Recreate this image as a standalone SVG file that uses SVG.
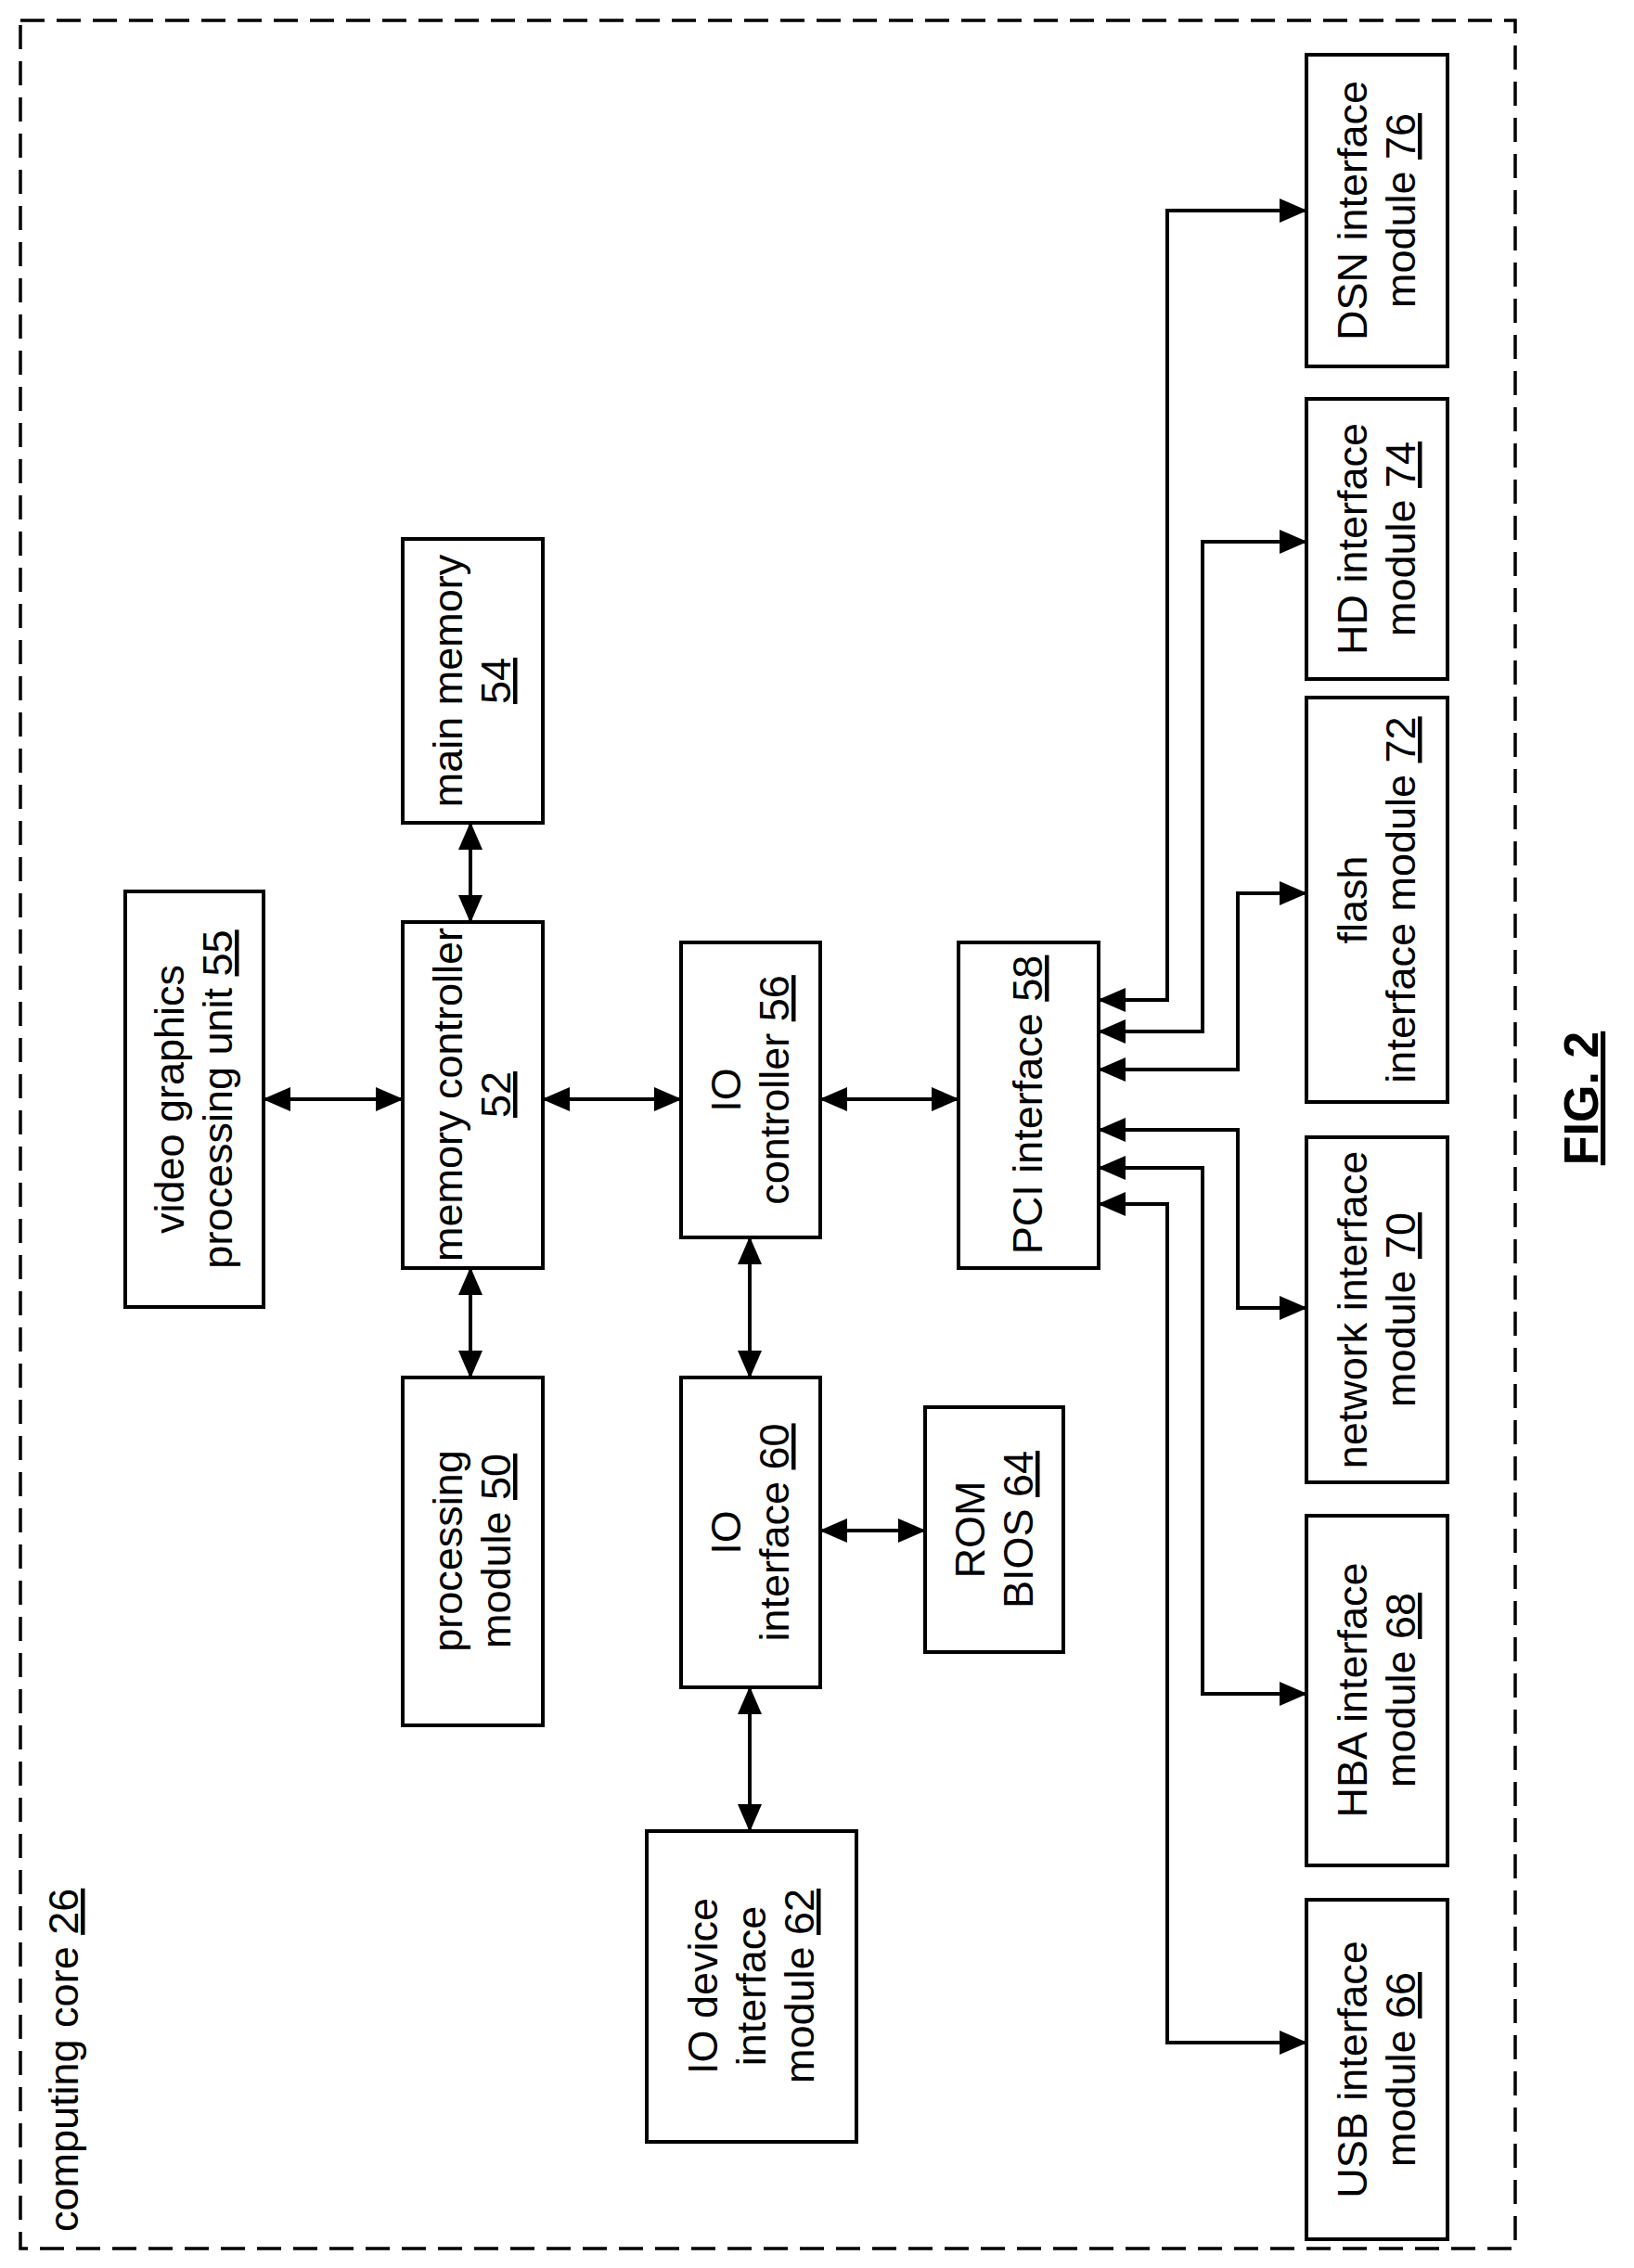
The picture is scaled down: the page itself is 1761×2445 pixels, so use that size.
<svg xmlns="http://www.w3.org/2000/svg" width="1761" height="2445" viewBox="0 0 1761 2445">
<style>
.b{fill:#fff;stroke:#000;stroke-width:4}
.t{font-family:"Liberation Sans",Arial,sans-serif;font-size:45px;text-anchor:middle;fill:#000}
.c{fill:none;stroke:#000;stroke-width:4}
.u{text-decoration:underline}
</style>
<defs>
<marker id="a" viewBox="0 0 30 26" refX="29" refY="13" markerWidth="30" markerHeight="26" markerUnits="userSpaceOnUse" orient="auto-start-reverse"><path d="M0,0L30,13L0,26z" fill="#000"/></marker>
</defs>
<rect x="22" y="22" width="1611" height="2402" fill="none" stroke="#000" stroke-width="3.5" stroke-dasharray="26 13"/>
<text class="t" style="text-anchor:start" transform="translate(84,2406) rotate(-90)">computing core <tspan class="u">26</tspan></text>
<text class="t" style="font-weight:bold;font-size:52px" transform="translate(1722,1184) rotate(-90)"><tspan class="u">FIG. 2</tspan></text>

<g id="connectors">
<path class="c" d="M284,1185H434" marker-start="url(#a)" marker-end="url(#a)"/>
<path class="c" d="M585,1185H734" marker-start="url(#a)" marker-end="url(#a)"/>
<path class="c" d="M884,1185H1033" marker-start="url(#a)" marker-end="url(#a)"/>
<path class="c" d="M507,887V994" marker-start="url(#a)" marker-end="url(#a)"/>
<path class="c" d="M507,1367V1485" marker-start="url(#a)" marker-end="url(#a)"/>
<path class="c" d="M808,1334V1485" marker-start="url(#a)" marker-end="url(#a)"/>
<path class="c" d="M884,1650H997" marker-start="url(#a)" marker-end="url(#a)"/>
<path class="c" d="M808,1819V1974" marker-start="url(#a)" marker-end="url(#a)"/>
<path class="c" d="M1184,1078H1258V227H1408" marker-start="url(#a)" marker-end="url(#a)"/>
<path class="c" d="M1184,1112H1296V584H1408" marker-start="url(#a)" marker-end="url(#a)"/>
<path class="c" d="M1184,1153H1334V963H1408" marker-start="url(#a)" marker-end="url(#a)"/>
<path class="c" d="M1184,1218H1334V1410H1408" marker-start="url(#a)" marker-end="url(#a)"/>
<path class="c" d="M1184,1259H1296V1826H1408" marker-start="url(#a)" marker-end="url(#a)"/>
<path class="c" d="M1184,1298H1258V2202H1408" marker-start="url(#a)" marker-end="url(#a)"/>
</g>

<g id="dsn"><rect class="b" x="1408" y="59" width="152" height="336"/><text class="t" transform="translate(1484,227) rotate(-90)"><tspan x="0" y="-11">DSN interface</tspan><tspan x="0" y="41">module <tspan class="u">76</tspan></tspan></text></g>
<g id="hd"><rect class="b" x="1408" y="430" width="152" height="302"/><text class="t" transform="translate(1484,581) rotate(-90)"><tspan x="0" y="-11">HD interface</tspan><tspan x="0" y="41">module <tspan class="u">74</tspan></tspan></text></g>
<g id="flash"><rect class="b" x="1408" y="752" width="152" height="436"/><text class="t" transform="translate(1484,970) rotate(-90)"><tspan x="0" y="-11">flash</tspan><tspan x="0" y="41">interface module <tspan class="u">72</tspan></tspan></text></g>
<g id="network"><rect class="b" x="1408" y="1226" width="152" height="372"/><text class="t" transform="translate(1484,1412) rotate(-90)"><tspan x="0" y="-11">network interface</tspan><tspan x="0" y="41">module <tspan class="u">70</tspan></tspan></text></g>
<g id="hba"><rect class="b" x="1408" y="1634" width="152" height="377"/><text class="t" transform="translate(1484,1822) rotate(-90)"><tspan x="0" y="-11">HBA interface</tspan><tspan x="0" y="41">module <tspan class="u">68</tspan></tspan></text></g>
<g id="usb"><rect class="b" x="1408" y="2048" width="152" height="366"/><text class="t" transform="translate(1484,2231) rotate(-90)"><tspan x="0" y="-11">USB interface</tspan><tspan x="0" y="41">module <tspan class="u">66</tspan></tspan></text></g>
<g id="mainmem"><rect class="b" x="434" y="581" width="151" height="306"/><text class="t" transform="translate(509,734) rotate(-90)"><tspan x="0" y="-11">main memory</tspan><tspan x="0" y="41" class="u">54</tspan></text></g>
<g id="video"><rect class="b" x="135" y="961" width="149" height="448"/><text class="t" transform="translate(209,1185) rotate(-90)"><tspan x="0" y="-11">video graphics</tspan><tspan x="0" y="41">processing unit <tspan class="u">55</tspan></tspan></text></g>
<g id="memctrl"><rect class="b" x="434" y="994" width="151" height="373"/><text class="t" transform="translate(509,1180) rotate(-90)"><tspan x="0" y="-11">memory controller</tspan><tspan x="0" y="41" class="u">52</tspan></text></g>
<g id="ioctrl"><rect class="b" x="734" y="1016" width="150" height="318"/><text class="t" transform="translate(809,1175) rotate(-90)"><tspan x="0" y="-11">IO</tspan><tspan x="0" y="41">controller <tspan class="u">56</tspan></tspan></text></g>
<g id="pci"><rect class="b" x="1033" y="1016" width="151" height="351"/><text class="t" transform="translate(1108,1191) rotate(-90)"><tspan x="0" y="15">PCI interface <tspan class="u">58</tspan></tspan></text></g>
<g id="processing"><rect class="b" x="434" y="1485" width="151" height="375"/><text class="t" transform="translate(509,1672) rotate(-90)"><tspan x="0" y="-11">processing</tspan><tspan x="0" y="41">module <tspan class="u">50</tspan></tspan></text></g>
<g id="iointerface"><rect class="b" x="734" y="1485" width="150" height="334"/><text class="t" transform="translate(809,1652) rotate(-90)"><tspan x="0" y="-11">IO</tspan><tspan x="0" y="41">interface <tspan class="u">60</tspan></tspan></text></g>
<g id="rom"><rect class="b" x="997" y="1517" width="149" height="264"/><text class="t" transform="translate(1072,1649) rotate(-90)"><tspan x="0" y="-11">ROM</tspan><tspan x="0" y="41">BIOS <tspan class="u">64</tspan></tspan></text></g>
<g id="iodevice"><rect class="b" x="697" y="1974" width="226" height="335"/><text class="t" transform="translate(810,2141) rotate(-90)"><tspan x="0" y="-37">IO device</tspan><tspan x="0" y="15">interface</tspan><tspan x="0" y="67">module <tspan class="u">62</tspan></tspan></text></g>
</svg>
